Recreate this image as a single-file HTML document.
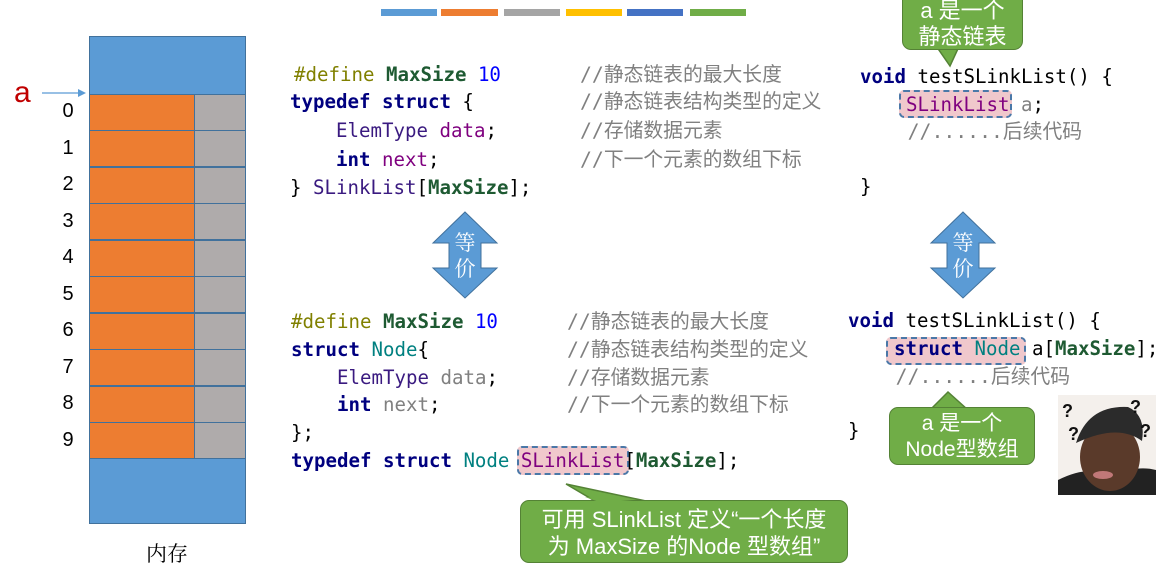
<!DOCTYPE html>
<html><head><meta charset="utf-8"><style>
body{margin:0;width:1156px;height:568px;background:#fff;position:relative;overflow:hidden;font-family:"Liberation Sans","Noto Sans CJK SC",sans-serif}
.a{position:absolute}
.c{position:absolute;white-space:pre;font-family:"DejaVu Sans Mono","Liberation Mono","Noto Sans CJK SC",monospace;font-size:19.1px;line-height:24px;color:#000}
.cm{position:absolute;white-space:pre;font-family:"DejaVu Sans Mono","Noto Sans CJK SC",monospace;font-size:19.8px;line-height:24px;color:#808080}
.k{color:#00007f;font-weight:bold}.g{color:#1e5a32;font-weight:bold}.p{color:#7f007f}.t{color:#008080}.o{color:#808000}.b{color:#0000ff}.gr{color:#808080}.pu{color:#3a1a80}
.hl{position:absolute;background:#f0c8cc;border:2px dashed #4a78a8;border-radius:5px;box-sizing:border-box}
.row{position:absolute;left:89px;width:157px;height:37px;box-sizing:border-box;border:1px solid #41719c;background:#ed7d31}
.row i{position:absolute;left:104px;top:0;bottom:0;right:0;background:#afabab;border-left:1px solid #41719c}
.n{position:absolute;left:56px;width:24px;text-align:center;font-size:20px}
.call{position:absolute;background:#70ad47;border:1.5px solid #548235;border-radius:9px;color:#fff;text-align:center;font-size:21px;line-height:26px;box-sizing:border-box}
</style></head><body>
<div class="a" style="left:381px;top:9px;width:56px;height:7px;background:#5b9bd5"></div>
<div class="a" style="left:441px;top:9px;width:57px;height:7px;background:#ed7d31"></div>
<div class="a" style="left:504px;top:9px;width:56px;height:7px;background:#a5a5a5"></div>
<div class="a" style="left:566px;top:9px;width:56px;height:7px;background:#ffc000"></div>
<div class="a" style="left:627px;top:9px;width:56px;height:7px;background:#4472c4"></div>
<div class="a" style="left:690px;top:9px;width:56px;height:7px;background:#70ad47"></div>

<div class="a" style="left:89px;top:36px;width:157px;height:59px;background:#5b9bd5;border:1px solid #41719c;box-sizing:border-box"></div>
<div class="row" style="top:94px"><i></i></div>
<div class="row" style="top:130px"><i></i></div>
<div class="row" style="top:167px"><i></i></div>
<div class="row" style="top:203px"><i></i></div>
<div class="row" style="top:240px"><i></i></div>
<div class="row" style="top:276px"><i></i></div>
<div class="row" style="top:313px"><i></i></div>
<div class="row" style="top:349px"><i></i></div>
<div class="row" style="top:386px"><i></i></div>
<div class="row" style="top:422px"><i></i></div>
<div class="a" style="left:89px;top:458px;width:157px;height:66px;background:#5b9bd5;border:1px solid #41719c;box-sizing:border-box"></div>
<div class="n" style="top:100px">0</div><div class="n" style="top:137px">1</div><div class="n" style="top:173px">2</div><div class="n" style="top:210px">3</div><div class="n" style="top:246px">4</div><div class="n" style="top:283px">5</div><div class="n" style="top:319px">6</div><div class="n" style="top:356px">7</div><div class="n" style="top:392px">8</div><div class="n" style="top:429px">9</div>
<div class="a" style="left:14px;top:76px;font-size:30px;color:#c00000">a</div>
<svg class="a" style="left:40px;top:86px" width="50" height="14"><line x1="2" y1="7" x2="40" y2="7" stroke="#5b9bd5" stroke-width="1.3"/><polygon points="38,3 46,7 38,11" fill="#5b9bd5"/></svg>
<div class="a" style="left:146px;top:538px;font-size:21px;font-family:'Noto Serif CJK SC',serif">内存</div>

<div class="c" style="left:294px;top:63px"><span class="o">#define</span> <span class="g">MaxSize</span> <span class="b">10</span></div>
<div class="c" style="left:290px;top:90px"><span class="k">typedef struct</span> {</div>
<div class="c" style="left:290px;top:119px">    <span class="pu">ElemType</span> <span class="p">data</span>;</div>
<div class="c" style="left:290px;top:148px">    <span class="k">int</span> <span class="p">next</span>;</div>
<div class="c" style="left:290px;top:176px">} <span class="pu">SLinkList</span>[<span class="g">MaxSize</span>];</div>
<div class="cm" style="left:580px;top:63px">//静态链表的最大长度</div>
<div class="cm" style="left:580px;top:90px">//静态链表结构类型的定义</div>
<div class="cm" style="left:580px;top:119px">//存储数据元素</div>
<div class="cm" style="left:580px;top:148px">//下一个元素的数组下标</div>

<svg class="a" style="left:430px;top:210px" width="70" height="92"><polygon points="35,2 67,33 51,33 51,58 67,58 35,88 3,58 19,58 19,33 3,33" fill="#5b9bd5" stroke="#41719c" stroke-width="1"/><text x="35" y="40" fill="#fff" font-size="21" text-anchor="middle" font-family="Noto Serif CJK SC,serif">等</text><text x="35" y="66" fill="#fff" font-size="21" text-anchor="middle" font-family="Noto Serif CJK SC,serif">价</text></svg>
<svg class="a" style="left:928px;top:210px" width="70" height="92"><polygon points="35,2 67,33 51,33 51,58 67,58 35,88 3,58 19,58 19,33 3,33" fill="#5b9bd5" stroke="#41719c" stroke-width="1"/><text x="35" y="40" fill="#fff" font-size="21" text-anchor="middle" font-family="Noto Serif CJK SC,serif">等</text><text x="35" y="66" fill="#fff" font-size="21" text-anchor="middle" font-family="Noto Serif CJK SC,serif">价</text></svg>

<div class="hl" style="left:517px;top:446px;width:112px;height:29px"></div>
<div class="c" style="left:291px;top:310px"><span class="o">#define</span> <span class="g">MaxSize</span> <span class="b">10</span></div>
<div class="c" style="left:291px;top:338px"><span class="k">struct</span> <span class="t">Node</span>{</div>
<div class="c" style="left:291px;top:366px">    <span class="pu">ElemType</span> <span class="gr">data</span>;</div>
<div class="c" style="left:291px;top:393px">    <span class="k">int</span> <span class="gr">next</span>;</div>
<div class="c" style="left:291px;top:421px">};</div>
<div class="c" style="left:291px;top:449px"><span class="k">typedef struct</span> <span class="t">Node</span> <span class="p">SLinkList</span>[<span class="g">MaxSize</span>];</div>
<div class="cm" style="left:567px;top:310px">//静态链表的最大长度</div>
<div class="cm" style="left:567px;top:338px">//静态链表结构类型的定义</div>
<div class="cm" style="left:567px;top:366px">//存储数据元素</div>
<div class="cm" style="left:567px;top:393px">//下一个元素的数组下标</div>

<div class="hl" style="left:899px;top:90px;width:113px;height:28px"></div>
<div class="c" style="left:860px;top:65px"><span class="k">void</span> testSLinkList() {</div>
<div class="c" style="left:860px;top:93px">    <span class="p">SLinkList</span> <span class="gr">a</span>;</div>
<div class="cm" style="left:860px;top:120px">    //......后续代码</div>
<div class="c" style="left:860px;top:175px">}</div>

<div class="hl" style="left:886px;top:337px;width:140px;height:28px"></div>
<div class="c" style="left:848px;top:309px"><span class="k">void</span> testSLinkList() {</div>
<div class="c" style="left:848px;top:337px">    <span class="k">struct</span> <span class="t">Node</span> a[<span class="g">MaxSize</span>];</div>
<div class="cm" style="left:848px;top:365px">    //......后续代码</div>
<div class="c" style="left:848px;top:419px">}</div>

<svg class="a" style="left:930px;top:40px" width="40" height="30"><polygon points="2,0 32,0 20,26" fill="#70ad47" stroke="#548235" stroke-width="1.5"/></svg>
<div class="call" style="left:902px;top:-10px;width:121px;height:60px;padding-top:7px;font-size:22px">a 是一个<br>静态链表</div>
<svg class="a" style="left:928px;top:390px" width="50" height="22"><polygon points="2,20 20,2 40,20" fill="#70ad47" stroke="#548235" stroke-width="1.5"/></svg>
<div class="call" style="left:889px;top:407px;width:146px;height:58px;padding-top:3px">a 是一个<br>Node型数组</div>
<svg class="a" style="left:560px;top:482px" width="110" height="24"><polygon points="6,2 100,22 40,22" fill="#70ad47" stroke="#548235" stroke-width="1.5"/></svg>
<div class="call" style="left:520px;top:500px;width:328px;height:63px;padding-top:5px;font-size:22px;line-height:27px">可用 SLinkList 定义“一个长度<br>为 MaxSize 的Node 型数组”</div>
<svg class="a" style="left:560px;top:497px" width="110" height="8"><polygon points="25,0 98,6 42,6" fill="#70ad47"/></svg>

<svg class="a" style="left:1058px;top:395px" width="98" height="100">
<rect width="98" height="100" fill="#f4f0ec"/>
<path d="M0,100 L0,85 Q30,70 50,80 Q80,70 98,75 L98,100Z" fill="#222"/>
<ellipse cx="52" cy="62" rx="30" ry="34" fill="#5a3a2a"/>
<path d="M18,48 Q30,10 70,12 Q88,20 84,46 Q60,28 18,48Z" fill="#2b2b2b"/>
<ellipse cx="45" cy="80" rx="10" ry="4" fill="#c07878"/>
<text x="4" y="22" font-size="18" font-weight="bold" fill="#111">?</text>
<text x="72" y="18" font-size="18" font-weight="bold" fill="#111">?</text>
<text x="10" y="45" font-size="18" font-weight="bold" fill="#111">?</text>
<text x="82" y="42" font-size="18" font-weight="bold" fill="#111">?</text>
</svg>
</body></html>
